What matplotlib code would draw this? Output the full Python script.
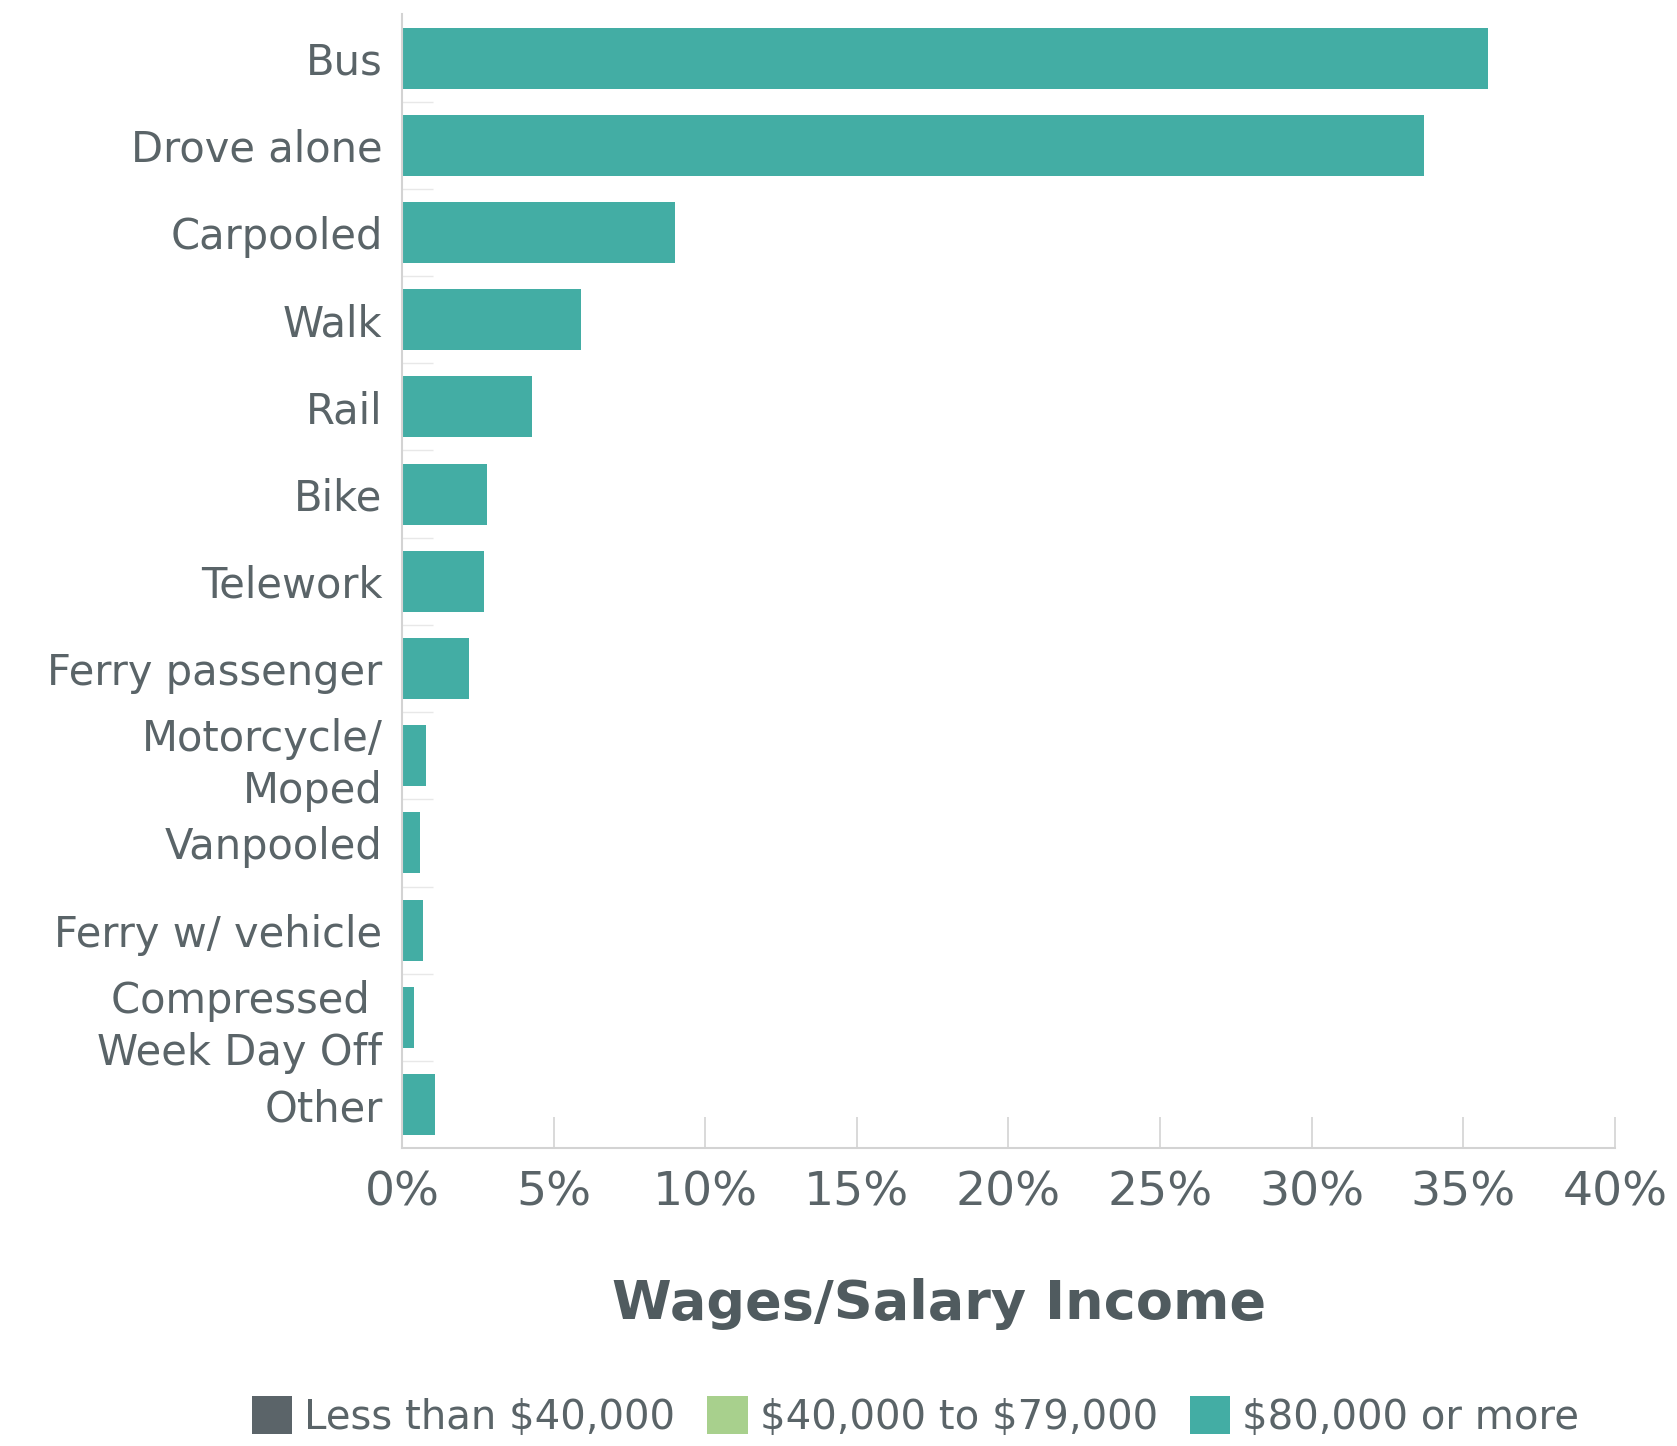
import matplotlib.pyplot as plt
from matplotlib.patches import Patch
import numpy as np

# Commute mode share, wages/salary income $80,000 or more
modes = ['Bus', 'Drove alone', 'Carpooled', 'Walk', 'Rail', 'Bike', 'Telework',
         'Ferry passenger', 'Motorcycle/\nMoped', 'Vanpooled', 'Ferry w/ vehicle',
         'Compressed \nWeek Day Off', 'Other']
share_80k_plus = [35.8, 33.7, 9.0, 5.9, 4.3, 2.8, 2.7, 2.2, 0.8, 0.6, 0.7, 0.4, 1.1]

legend_labels = ['Less than \\$40,000', '\\$40,000 to \\$79,000', '\\$80,000 or more']
legend_colors = ['#5b6469', '#a8d08d', '#43ada4']
x_ticks = [0, 5, 10, 15, 20, 25, 30, 35, 40]

text_color = '#5a6468'
line_color = '#d3d3d3'
plt.rcParams['font.family'] = ['DejaVu Sans']

fig = plt.figure(figsize=(16.77, 14.46), dpi=100)
ax = fig.add_axes([0.2397, 0.206, 0.7233, 0.784])

y = np.arange(len(modes))
ax.barh(y, share_80k_plus, height=0.70, color=legend_colors[2])

ax.set_xlim(0, 40)
ax.set_ylim(len(modes) - 0.5, -0.5)
ax.set_xticks(x_ticks)
ax.set_xticklabels([f'{t}%' for t in x_ticks], fontsize=34, color=text_color)
ax.set_yticks(y)
ax.set_yticklabels(modes, fontsize=30, color=text_color, linespacing=1.3)
ax.set_yticks(np.arange(len(modes) - 1) + 0.5, minor=True)

ax.tick_params(axis='x', direction='in', length=22, width=1.2, color=line_color, pad=16)
ax.tick_params(axis='y', which='major', length=0, pad=14)
ax.tick_params(axis='y', which='minor', direction='in', length=22, width=1, color='#e8e8e8')

for s in ['top', 'right']:
    ax.spines[s].set_visible(False)
for s in ['left', 'bottom']:
    ax.spines[s].set_color(line_color)
    ax.spines[s].set_linewidth(1.5)

fig.text(0.56, 0.098, 'Wages/Salary Income', ha='center', va='center',
         fontsize=39, fontweight='bold', color='#505b5f')

handles = [Patch(facecolor=c, edgecolor='none') for c in legend_colors]
fig.legend(handles, legend_labels, loc='center', bbox_to_anchor=(0.546, 0.02), ncol=3,
           frameon=False, fontsize=29, labelcolor=text_color, handlelength=1.0,
           handleheight=1.05, handletextpad=0.3, columnspacing=0.8)

fig.savefig('out.png', dpi=100, facecolor='white')
